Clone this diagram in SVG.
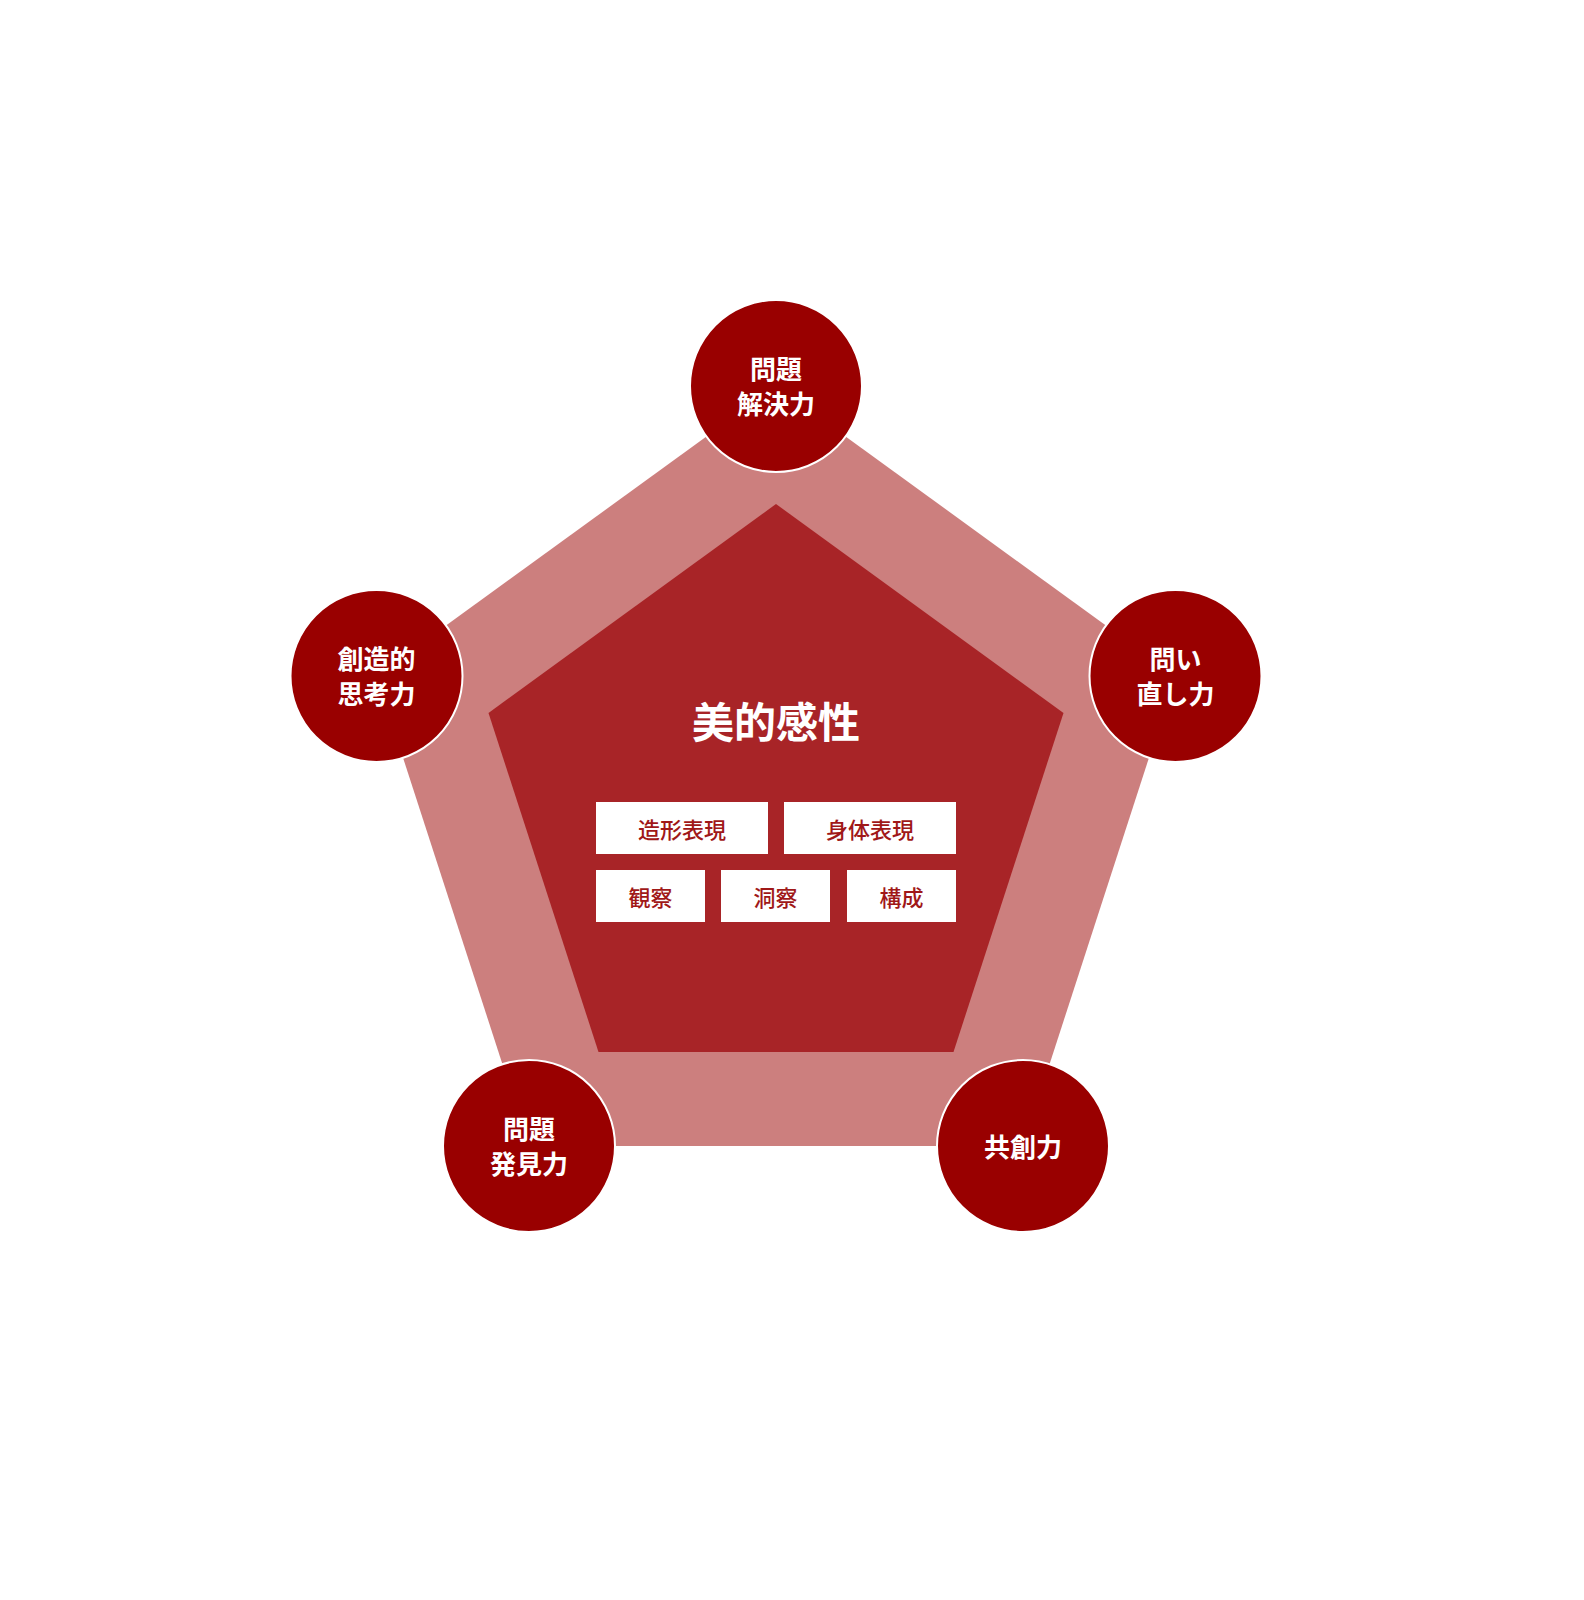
<svg xmlns="http://www.w3.org/2000/svg" width="1584" height="1600" viewBox="0 0 1584 1600">
<style>
text{font-family:"Noto Sans CJK JP","Noto Sans",sans-serif;text-anchor:middle}
.node circle{fill:#990000;stroke:#ffffff;stroke-width:2}
.node text{fill:#ffffff;font-size:26px;font-weight:700}
.box rect{fill:#ffffff}
.box text{fill:#a01818;font-size:22px;font-weight:500}
.ghost{fill:#ffffff;font-size:32px;font-weight:700}
</style>
<rect width="1584" height="1600" fill="#ffffff"/>
<g id="connectors">
<polygon id="outer" points="776,386 1175.5,676 1023,1146 529,1146 376.5,676" fill="#cc7f7e"/>
<polygon id="inner" points="776,504 1063.5,713 953.5,1052 598.5,1052 488.5,713" fill="#a82427"/>
</g>
<g id="ghost-labels">
<text class="ghost" x="305" y="435">新たな「価値」の</text>
<text class="ghost" x="305" y="485">デザイン</text>
<text class="ghost" x="1265" y="435">新たな「意味」の</text>
<text class="ghost" x="1265" y="485">デザイン</text>
<text class="ghost" x="265" y="1050">新たな「未来」の</text>
<text class="ghost" x="265" y="1100">デザイン</text>
<text class="ghost" x="1300" y="1050">新たな「社会」の</text>
<text class="ghost" x="1300" y="1100">デザイン</text>
</g>
<g id="center">
<text x="776" y="738" fill="#ffffff" font-size="42" font-weight="700">美的感性</text>
</g>
<g id="box-zoukei" class="box"><rect x="596" y="802" width="172" height="52"/><text x="682" y="838">造形表現</text></g>
<g id="box-shintai" class="box"><rect x="784" y="802" width="172" height="52"/><text x="870" y="838">身体表現</text></g>
<g id="box-kansatsu" class="box"><rect x="596" y="870" width="109" height="52"/><text x="650.5" y="906">観察</text></g>
<g id="box-dousatsu" class="box"><rect x="721" y="870" width="109" height="52"/><text x="775.5" y="906">洞察</text></g>
<g id="box-kousei" class="box"><rect x="847" y="870" width="109" height="52"/><text x="901.5" y="906">構成</text></g>
<g id="node-top" class="node"><circle cx="776" cy="386" r="86"/><text x="776" y="379">問題</text><text x="776" y="414">解決力</text></g>
<g id="node-left" class="node"><circle cx="376.5" cy="676" r="86"/><text x="376.5" y="669">創造的</text><text x="376.5" y="704">思考力</text></g>
<g id="node-right" class="node"><circle cx="1175.5" cy="676" r="86"/><text x="1175.5" y="669">問い</text><text x="1175.5" y="704">直し力</text></g>
<g id="node-bl" class="node"><circle cx="529" cy="1146" r="86"/><text x="529" y="1139">問題</text><text x="529" y="1174">発見力</text></g>
<g id="node-br" class="node"><circle cx="1023" cy="1146" r="86"/><text x="1023" y="1157">共創力</text></g>
</svg>
